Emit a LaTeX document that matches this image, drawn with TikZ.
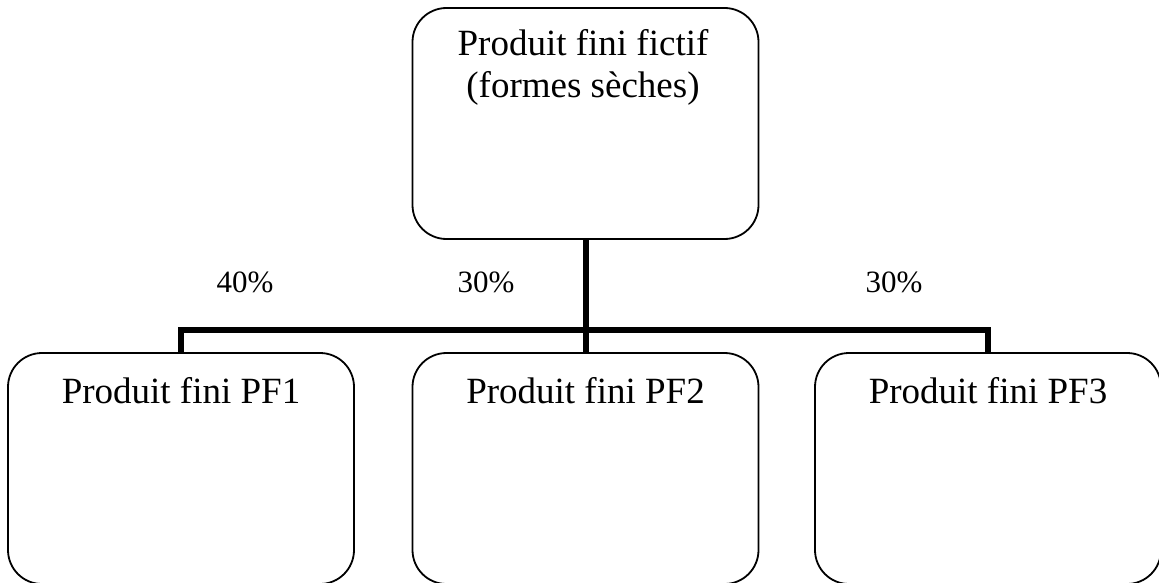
\documentclass[tikz,border=0pt]{standalone}
\usepackage{fontspec}
\setmainfont{Liberation Serif}
\begin{document}
\begin{tikzpicture}[x=1pt,y=-1pt,
  box/.style={draw=black, line width=1.8pt, rounded corners=34pt, minimum width=346pt, minimum height=231pt, inner sep=0pt},
  boxtext/.style={anchor=base, inner sep=0pt, font=\fontsize{37}{42}\selectfont},
  pct/.style={anchor=base, inner sep=0pt, font=\fontsize{31}{36}\selectfont},
  conn/.style={line width=6pt, black}]
\useasboundingbox (0,0) rectangle (1159,583);
\clip (0,0) rectangle (1159,583);
\node[box] (top) at (585.5,123.5) {};
\node[box] (pf1) at (181,468.5) {};
\node[box] (pf2) at (585.5,468.5) {};
\node[box] (pf3) at (988,468.5) {};
\node[boxtext] (t1) at (583,56) {Produit fini fictif};
\node[boxtext] (t2) at (583,98) {(formes sèches)};
\node[boxtext] (l1) at (181,403) {Produit fini PF1};
\node[boxtext] (l2) at (585.5,403) {Produit fini PF2};
\node[boxtext] (l3) at (988,403) {Produit fini PF3};
\node[pct] (p1) at (245,292) {40\%};
\node[pct] (p2) at (486,292) {30\%};
\node[pct] (p3) at (894,292) {30\%};
\coordinate (hub) at (585.5,330);
\draw[conn] (top.south) -- (pf2.north);
\draw[conn] (pf1.north) |- (hub) -| (pf3.north);
\end{tikzpicture}
\end{document}
